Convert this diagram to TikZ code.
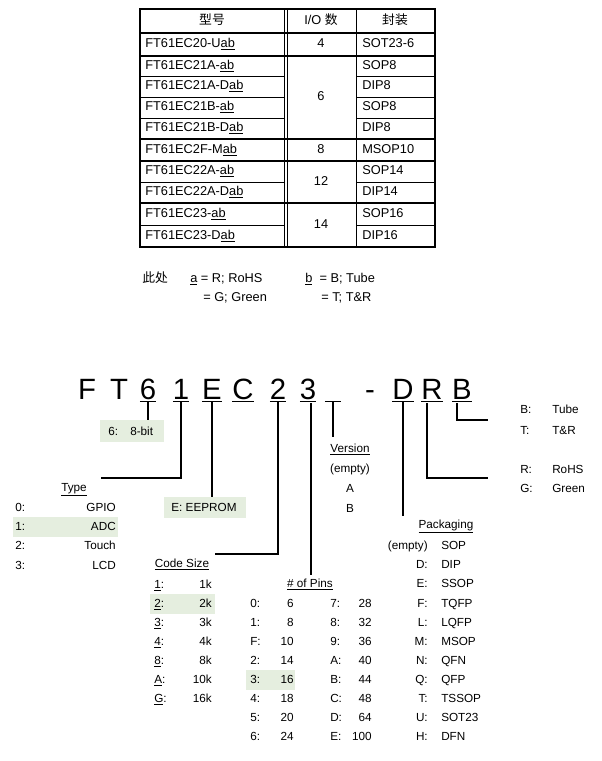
\documentclass[tikz,border=0pt]{standalone}
\usepackage{fontspec}
\setmainfont{Liberation Sans}
\newfontfamily\cjk{Noto Sans CJK SC}
\usetikzlibrary{positioning}
\definecolor{hlgreen}{HTML}{E5EEDF}
\tikzset{
  txt/.style={inner sep=0pt, text height=6.5pt, text depth=2pt, font=\fontsize{8.8}{10}\selectfont},
  tbl/.style={inner sep=0pt, text height=7pt, text depth=2.2pt, font=\fontsize{9.6}{11}\selectfont},
  big/.style={inner sep=0pt, anchor=base, font=\fontsize{22}{24}\selectfont},
  thick line/.style={line width=1.3pt},
  thin line/.style={line width=0.5pt},
  conn/.style={line width=0.9pt},
  hl/.style={fill=hlgreen, draw=none}
}
\begin{document}
\begin{tikzpicture}[x=0.75pt,y=-0.75pt]
  \useasboundingbox (0,0) rectangle (601,761);
  % table
  \foreach \y in {76,97,118,182,225}
    {\draw[thin line] (140,\y) -- (285,\y);
     \draw[thin line] (356,\y) -- (435,\y);}
  \foreach \y in {33,56,139,161,203}
    \draw[thick line] (140,\y) -- (435,\y);
  \draw[thin line] (284,9) -- (284,247);
  \draw[thin line] (287,9) -- (287,247);
  \draw[thin line] (356,9) -- (356,247);
  \draw[thick line] (140,9) rectangle (435,247);
  \node[tbl] (h1) at (212,21) {\cjk 型号};
  \node[tbl] (h2) at (321,21) {I/O \cjk 数};
  \node[tbl] (h3) at (395,21) {\cjk 封装};
  \foreach \n/\y/\t in {1/44.5/FT61EC20-U\underline{ab}, 2/66/FT61EC21A-\underline{ab},
      3/86.5/FT61EC21A-D\underline{ab}, 4/107.5/FT61EC21B-\underline{ab},
      5/128.5/FT61EC21B-D\underline{ab}, 6/150/FT61EC2F-M\underline{ab},
      7/171.5/FT61EC22A-\underline{ab}, 8/192.5/FT61EC22A-D\underline{ab},
      9/214/FT61EC23-\underline{ab}, 10/236/FT61EC23-D\underline{ab}}
    \node[tbl, anchor=west] (m\n) at (145,\y) {\t};
  \foreach \n/\y/\t in {1/44.5/SOT23-6, 2/66/SOP8, 3/86.5/DIP8, 4/107.5/SOP8,
      5/128.5/DIP8, 6/150/MSOP10, 7/171.5/SOP14, 8/192.5/DIP14,
      9/214/SOP16, 10/236/DIP16}
    \node[tbl, anchor=west] (p\n) at (362,\y) {\t};
  \foreach \n/\y/\t in {1/44.5/4, 2/97/6, 3/150/8, 4/182/12, 5/225/14}
    \node[tbl] (io\n) at (321,\y) {\t};
  % legend under table
  \node[tbl, anchor=west] (here) at (142,279) {\cjk 此处};
  \node[tbl, anchor=west] (a1) at (190,279) {\underline{a} = R; RoHS};
  \node[tbl, anchor=west] (a2) at (203,298) {= G; Green};
  \node[tbl, anchor=west] (b1) at (305,279) {\underline{b}\ \ = B; Tube};
  \node[tbl, anchor=west] (b2) at (321,298) {= T; T\&R};
  % part number
  \foreach \n/\x/\t in {lF/87/F, lT/119/T, l6/148/\underline{6}, l1/181/\underline{1},
      lE/212/\underline{E}, lC/243/\underline{C}, l2/278/\underline{2}, l3/308/\underline{3},
      lv/333/\underline{\phantom{3}}, ld/370/-, lD/403/\underline{D}, lR/432/\underline{R},
      lB/462/\underline{B}}
    \node[big] (\n) at (\x,399) {\t};
  % highlights
  \fill[hl] (100,420) rectangle (164,442);
  \fill[hl] (164,497) rectangle (246,518);
  \fill[hl] (13,517) rectangle (118,537);
  \fill[hl] (150,594) rectangle (215,614);
  \fill[hl] (246,670) rectangle (295,690);
  % coordinates for connector ends
  \coordinate (c6) at (148,420);
  \coordinate (c1) at (101,478);
  \coordinate (cE) at (212,497);
  \coordinate (c2) at (215,554);
  \coordinate (c3) at (311,575);
  \coordinate (cv) at (333,437);
  \coordinate (cD) at (403,516);
  \coordinate (cR) at (488,478);
  \coordinate (cB) at (488,420);
  \draw[conn] (l6.south) -- (c6);
  \draw[conn] (l1.south) |- (c1);
  \draw[conn] (lE.south) -- (cE);
  \draw[conn] (l2.south) |- (c2);
  \draw[conn] (311,403) -- (c3);
  \draw[conn] (lv.south) -- (cv);
  \draw[conn] (lD.south) -- (cD);
  \draw[conn] (427,403) |- (cR);
  \draw[conn] (457,403) |- (cB);
  % 8-bit and EEPROM
  \node[txt, anchor=west] (k6) at (108,432) {6:};
  \node[txt, anchor=west] (v6) at (130,432) {8-bit};
  \node[txt] (eeprom) at (204,508) {E: EEPROM};
  % packing / material
  \foreach \n/\y/\k/\v in {bt/410/B:/Tube, bn/431/T:/T\&R, rr/470/R:/RoHS, rg/489/G:/Green}
    {\node[txt, anchor=west] (k\n) at (520,\y) {\k};
     \node[txt, anchor=west] (v\n) at (552,\y) {\v};}
  % version
  \node[txt] (ver) at (350,449) {\underline{Version}};
  \foreach \n/\y/\t in {1/469/(empty), 2/489/A, 3/509/B}
    \node[txt] (ver\n) at (350,\y) {\t};
  % type
  \node[txt] (type) at (74,488) {\underline{Type}};
  \foreach \n/\y/\t in {0/508/GPIO, 1/527/ADC, 2/546/Touch, 3/566/LCD}
    {\node[txt, anchor=west] (tk\n) at (15,\y) {\n:};
     \node[txt, anchor=east] (tv\n) at (116,\y) {\t};}
  % code size
  \node[txt] (code) at (182,564) {\underline{Code Size}};
  \foreach \n/\y/\t in {1/585/1k, 2/604/2k, 3/623/3k, 4/642/4k, 8/661/8k, A/680/10k, G/699/16k}
    {\node[txt, anchor=west] (ck\n) at (154,\y) {\underline{\n}:};
     \node[txt, anchor=east] (cv\n) at (212,\y) {\t};}
  % pins
  \node[txt] (pins) at (310,584) {\underline{\# of Pins}};
  \foreach \k/\v/\y in {0/6/604, 1/8/623, F/10/642, 2/14/661, 3/16/680, 4/18/699, 5/20/718, 6/24/737}
    {\node[txt, anchor=west] (pk\k) at (250,\y) {\k:};
     \node[txt, anchor=east] (pv\k) at (294,\y) {\v};}
  \foreach \k/\v/\y in {7/28/604, 8/32/623, 9/36/642, A/40/661, B/44/680, C/48/699, D/64/718, E/100/737}
    {\node[txt, anchor=west] (qk\k) at (330,\y) {\k:};
     \node[txt, anchor=east] (qv\k) at (372,\y) {\v};}
  % packaging
  \node[txt] (pack) at (446,525) {\underline{Packaging}};
  \foreach \k/\v/\y in {(empty)/SOP/546, D:/DIP/565, E:/SSOP/584, F:/TQFP/604, L:/LQFP/623,
      M:/MSOP/642, N:/QFN/661, Q:/QFP/680, T:/TSSOP/699, U:/SOT23/718, H:/DFN/737}
    {\node[txt, anchor=east] at (428,\y) {\k};
     \node[txt, anchor=west] at (441,\y) {\v};}
\end{tikzpicture}
\end{document}
